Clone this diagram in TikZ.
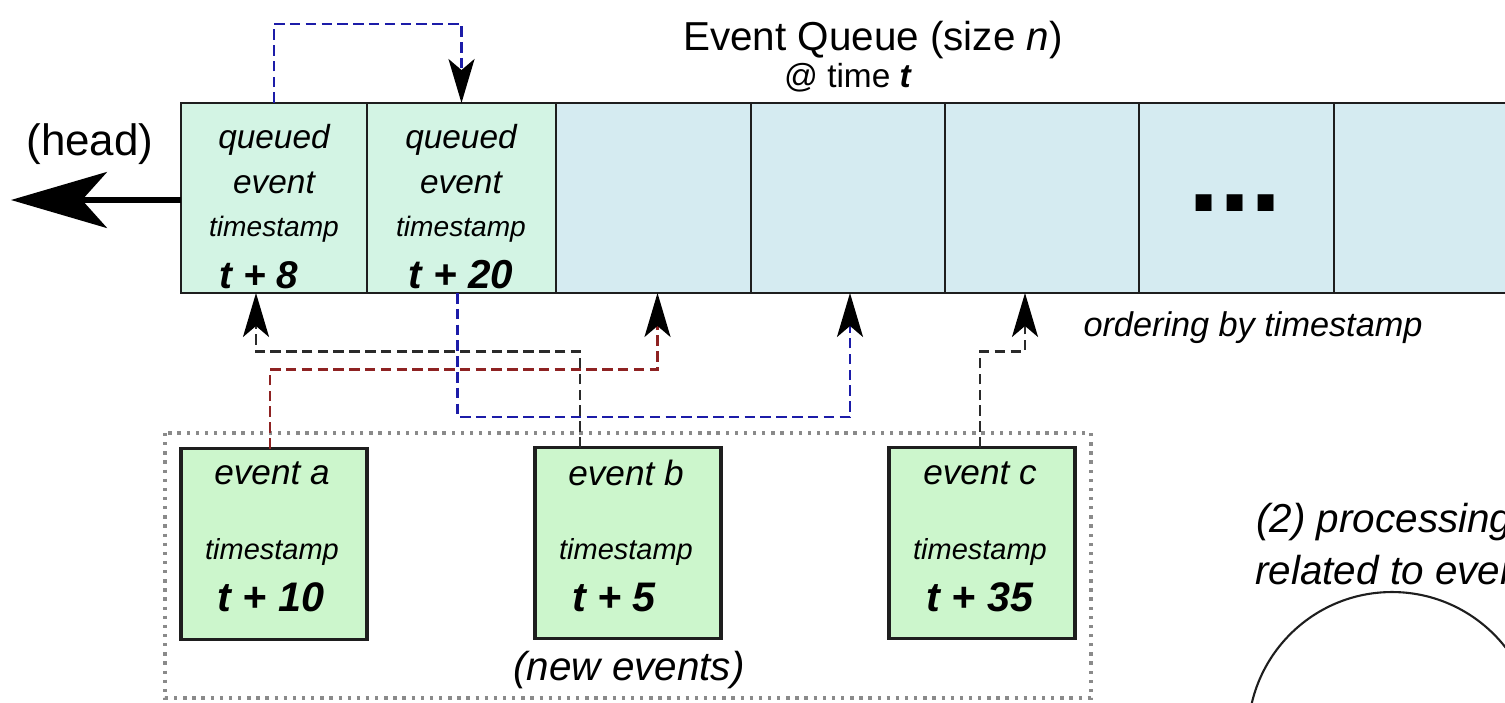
\documentclass[tikz,border=0pt]{standalone}
\usepackage{fontspec}
\setmainfont{Liberation Sans}
\usepackage{tikz}
\usetikzlibrary{calc,arrows.meta}
\definecolor{edge}{HTML}{1E1E1E}
\definecolor{qfill}{HTML}{D3F4E4}
\definecolor{slotfill}{HTML}{D5EBF1}
\definecolor{evfill}{HTML}{CCF6CC}
\definecolor{lblue}{HTML}{1C1CA8}
\definecolor{lred}{HTML}{8E2222}
\definecolor{lblack}{HTML}{2A2A2A}
\definecolor{boxdot}{HTML}{8A8A8A}
\newcommand{\txtsize}[1]{\fontsize{#1}{#1}\selectfont}
\tikzset{
  slot/.style={draw=edge, line width=1.6pt, minimum height=3.8cm, inner sep=0pt, outer sep=0pt},
  evbox/.style={draw=edge, fill=evfill, line width=1.8pt, minimum width=3.72cm, minimum height=3.82cm, inner sep=0pt, outer sep=0pt},
  lab/.style={inner sep=0pt, text=black},
  conn/.style={line width=1.5pt, dash pattern=on 6pt off 3pt, -{Stealth[length=0.88cm,width=0.52cm,inset=0.22cm,color=black]}},
  connb/.style={conn, draw=lblue},
  connr/.style={conn, draw=lred},
  connk/.style={conn, draw=lblack},
  newbox/.style={draw=boxdot, line width=1.9pt, dash pattern=on 1.9pt off 3.3pt},
}

\begin{document}
\begin{tikzpicture}[x=0.02cm,y=-0.02cm]
  \useasboundingbox (0,0) rectangle (1505,703);
  \clip (0,0) rectangle (1505,703);
  % queue slots, left = head
  \foreach \nm/\xl/\xr/\col in {q1/181/367/qfill, q2/367/556/qfill, q3/556/751/slotfill, q4/751/945/slotfill, q5/945/1139/slotfill, q6/1139/1334/slotfill, q7/1334/1530/slotfill}{
    \pgfmathsetmacro{\slotw}{(\xr-\xl)*0.02}
    \node[slot, fill=\col, minimum width=\slotw cm] (\nm) at ({(\xl+\xr)/2},198) {};
  }
  \node[lab, font=\txtsize{23pt}] (title) at (873,40) {Event Queue (size \textit{n})};
  \node[lab, font=\txtsize{19pt}] (clock) at (848,78) {@ time \textbf{\textit{t}}};

  \coordinate (headtip) at (11,200);
  \draw[line width=3pt, -{Stealth[length=1.92cm,width=1.12cm,inset=0.5cm]}] (q1.west |- headtip) -- (headtip);
  \node[lab, font=\txtsize{25pt}] (head) at (90,144) {(head)};

  % queued events
  \node[lab, font=\itshape\txtsize{19pt}] (q1a) at (274,140) {queued};
  \node[lab, font=\itshape\txtsize{19pt}] (q1b) at (274,183) {event};
  \node[lab, font=\itshape\txtsize{16pt}] (q1c) at (274,229) {timestamp};
  \node[lab, font=\bfseries\itshape\txtsize{22pt}] (q1d) at (259,275) {t + 8};
  \node[lab, font=\itshape\txtsize{19pt}] (q2a) at (461,140) {queued};
  \node[lab, font=\itshape\txtsize{19pt}] (q2b) at (461,183) {event};
  \node[lab, font=\itshape\txtsize{16pt}] (q2c) at (461,229) {timestamp};
  \node[lab, font=\bfseries\itshape\txtsize{23pt}] (q2d) at (461,275) {t + 20};
  \node[lab, font=\bfseries\txtsize{64pt}] (more) at (1235,203) {...};
  \node[lab, font=\itshape\txtsize{19.5pt}] (order) at (1253,328) {ordering by timestamp};

  % new events
  \draw[newbox] (165,433) rectangle (1091,698);
  \node[evbox] (ea) at (274,544) {};
  \node[evbox] (eb) at (628,543) {};
  \node[evbox] (ec) at (982,543) {};
  \node[lab, font=\itshape\txtsize{20pt}] (ea1) at (272,473) {event a};
  \node[lab, font=\itshape\txtsize{16.5pt}] (ea2) at (272,552) {timestamp};
  \node[lab, font=\bfseries\itshape\txtsize{23.5pt}] (ea3) at (271,597) {t + 10};
  \node[lab, font=\itshape\txtsize{20pt}] (eb1) at (626,473) {event b};
  \node[lab, font=\itshape\txtsize{16.5pt}] (eb2) at (626,552) {timestamp};
  \node[lab, font=\bfseries\itshape\txtsize{23.5pt}] (eb3) at (614,597) {t + 5};
  \node[lab, font=\itshape\txtsize{20pt}] (ec1) at (980,473) {event c};
  \node[lab, font=\itshape\txtsize{16.5pt}] (ec2) at (980,552) {timestamp};
  \node[lab, font=\bfseries\itshape\txtsize{23.5pt}] (ec3) at (980,597) {t + 35};
  \node[lab, font=\itshape\txtsize{23pt}] (newlab) at (629,670) {(new events)};

  % processing
  \node[lab, font=\itshape\txtsize{23pt}, anchor=west] (proc1) at (1256,522) {(2) processing};
  \node[lab, font=\itshape\txtsize{23pt}, anchor=west] (proc2) at (1255,570) {related to event};
  \node[draw=edge, line width=1.2pt, circle, minimum size=5.76cm, inner sep=0pt] (proc) at (1392,736) {};

  % insertions
  \draw[connb] (q1.north) -- ++(0,-79) -| (q2.north);
  \draw[connk] ($(eb.north)+(-48,0)$) -- ++(0,-96) -| ($(q1.south)+(-18,0)$);
  \draw[connr] ($(ea.north)+(-4,0)$) -- ++(0,-79) -| ($(q3.south)+(4,0)$);
  \draw[connb] ($(q2.south)+(-4,0)$) -- ++(0,124) -| ($(q4.south)+(2,0)$);
  \draw[connk] ($(ec.north)+(-2,0)$) -- ++(0,-96) -| ($(q5.south)+(-17,0)$);
\end{tikzpicture}
\end{document}
